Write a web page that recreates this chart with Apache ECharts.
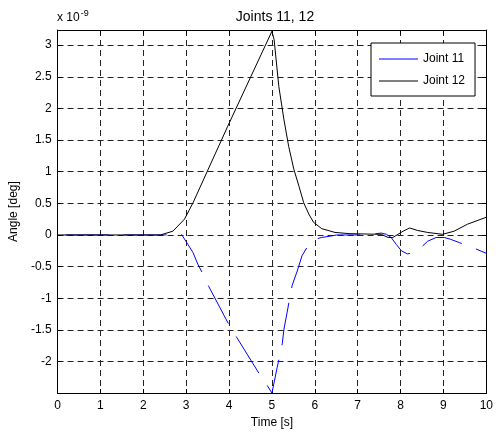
<!DOCTYPE html>
<html>
<head>
<meta charset="utf-8">
<script src="https://cdn.jsdelivr.net/npm/echarts@6/dist/echarts.min.js"></script>
<style>
  html, body { margin: 0; padding: 0; background: #fff; }
  #chart { width: 496px; height: 434px; }
</style>
</head>
<body>
<div id="chart"></div>
<script>
// Joint angles in units of 1e-9 deg
const timeJ11 = [0, 2.5, 2.8, 2.89, 3.04, 3.16, 3.27, 3.37, 3.53, 3.99, 4.17, 4.70, 4.89, 5.0, 5.12, 5.24, 5.28, 5.47, 5.59, 5.70, 5.86, 6.01, 6.15, 6.35, 6.51, 6.82, 7.2, 7.55, 7.67, 7.78, 7.90, 8.02, 8.16, 8.3, 8.46, 8.63, 8.83, 9.02, 9.17, 9.37, 9.52, 9.68, 10.0];
const angleJ11 = [0, 0, 0.02, 0.01, -0.15, -0.28, -0.46, -0.59, -0.82, -1.41, -1.61, -2.19, -2.38, -2.5, -2.1, -1.72, -1.49, -0.80, -0.57, -0.33, -0.15, -0.07, -0.04, -0.02, 0, 0, 0, 0.03, 0.01, -0.04, -0.15, -0.25, -0.30, -0.28, -0.21, -0.10, -0.04, -0.04, -0.07, -0.12, -0.16, -0.20, -0.29];

const timeJ12 = [0, 2.4, 2.69, 2.96, 3.16, 3.97, 5.0, 5.05, 5.16, 5.28, 5.39, 5.51, 5.63, 5.74, 5.86, 5.97, 6.16, 6.47, 6.82, 7.55, 7.71, 7.82, 7.94, 8.06, 8.21, 8.40, 8.63, 8.98, 9.25, 9.56, 10];
const angleJ12 = [0, 0, 0.06, 0.25, 0.51, 1.72, 3.22, 3.09, 2.35, 1.82, 1.40, 1.04, 0.77, 0.51, 0.33, 0.20, 0.10, 0.04, 0.02, 0.01, -0.04, -0.04, 0.01, 0.06, 0.11, 0.07, 0.04, 0.01, 0.06, 0.17, 0.28];

const xTicks = [0, 1, 2, 3, 4, 5, 6, 7, 8, 9, 10];
const yTicks = [-2, -1.5, -1, -0.5, 0, 0.5, 1, 1.5, 2, 2.5, 3];
const seriesNames = ['Joint 11', 'Joint 12'];

const FONT = 'Liberation Sans, Arial, Helvetica, sans-serif';

function pairs(ts, vs) { return ts.map((t, i) => [t, vs[i]]); }
function tickFormatter(list) {
  return v => (list.some(t => Math.abs(t - v) < 1e-6) ? String(v) : '');
}

const gridLine = { show: true, lineStyle: { color: '#222', type: [6, 4], width: 1 } };
const frameLine = { show: true, onZero: false, lineStyle: { color: '#000', width: 1 } };
const innerTick = { show: true, inside: true, length: 4, lineStyle: { color: '#000' } };

const chart = echarts.init(document.getElementById('chart'), null, { renderer: 'canvas' });
chart.setOption({
  animation: false,
  backgroundColor: '#fff',
  title: {
    text: 'Joints 11, 12',
    left: 270, top: 5, textAlign: 'center',
    textStyle: { fontFamily: FONT, fontSize: 14, fontWeight: 'normal', color: '#000' }
  },
  graphic: [{
    type: 'text', left: 57, top: 9,
    style: {
      text: '{b|x 10}{s|-9}',
      rich: {
        b: { fontFamily: FONT, fontSize: 12, fill: '#000', verticalAlign: 'bottom' },
        s: { fontFamily: FONT, fontSize: 9, fill: '#000', verticalAlign: 'top', padding: [0, 0, 6, 1] }
      }
    }
  }],
  legend: {
    data: seriesNames.map(n => ({ name: n, icon: 'rect' })),
    orient: 'vertical',
    left: 371, top: 43,
    padding: [10, 10, 9, 8],
    itemWidth: 39, itemHeight: 1, itemGap: 10,
    backgroundColor: '#fff', borderColor: '#000', borderWidth: 1,
    textStyle: { fontFamily: FONT, fontSize: 12, color: '#000' }
  },
  grid: { left: 57, right: 7, top: 30, bottom: 40, containLabel: false },
  xAxis: [{
    type: 'value', min: 0, max: 10, interval: 1,
    name: 'Time [s]', nameLocation: 'middle', nameGap: 23,
    nameTextStyle: { fontFamily: FONT, fontSize: 12, color: '#000' },
    axisLine: frameLine, axisTick: innerTick, splitLine: gridLine,
    axisLabel: { fontFamily: FONT, fontSize: 12, color: '#000', margin: 7, formatter: tickFormatter(xTicks) }
  }, {
    type: 'value', position: 'top', min: 0, max: 10, interval: 1,
    axisLine: frameLine, axisTick: innerTick, splitLine: { show: false }, axisLabel: { show: false }
  }],
  yAxis: [{
    type: 'value', min: -2.5, max: 3.24, interval: 0.5,
    name: 'Angle [deg]', nameLocation: 'middle', nameGap: 34,
    nameTextStyle: { fontFamily: FONT, fontSize: 12, color: '#000' },
    axisLine: frameLine, axisTick: innerTick, splitLine: gridLine,
    axisLabel: { fontFamily: FONT, fontSize: 12, color: '#000', margin: 6, formatter: tickFormatter(yTicks) }
  }, {
    type: 'value', position: 'right', min: -2.5, max: 3.24, interval: 0.5,
    axisLine: frameLine, axisTick: innerTick, splitLine: { show: false }, axisLabel: { show: false }
  }],
  series: [{
    name: seriesNames[0], type: 'line', data: pairs(timeJ11, angleJ11),
    symbol: 'none', z: 2, color: '#0000ff',
    lineStyle: { color: '#0000ff', width: 1, type: [43, 15], dashOffset: 50 }
  }, {
    name: seriesNames[1], type: 'line', data: pairs(timeJ12, angleJ12),
    symbol: 'none', z: 3, color: '#000',
    lineStyle: { color: '#000', width: 1 }
  }]
});
</script>
</body>
</html>
